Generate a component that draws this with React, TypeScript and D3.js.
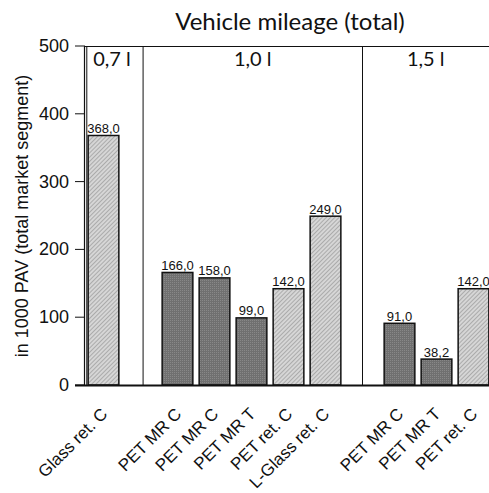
import React from "react";
import * as d3 from "d3";

const categories = ["Glass ret. C", "PET MR C", "PET MR C", "PET MR T", "PET ret. C", "L-Glass ret. C", "PET MR C", "PET MR T", "PET ret. C"];
const slots = [0, 2, 3, 4, 5, 6, 8, 9, 10];
const values = [368.0, 166.0, 158.0, 99.0, 142.0, 249.0, 91.0, 38.2, 142.0];
const kinds = ["light", "dark", "dark", "dark", "light", "light", "dark", "dark", "light"];
const groupLabels = ["0,7 l", "1,0 l", "1,5 l"];
const groupBounds = [-0.5, 1.07, 7.0, 10.5];
const yTicks = [0, 100, 200, 300, 400, 500];

const W = 489, H = 493;
const left = 85, right = 492, top = 46, bottom = 385;
const sans = "'Liberation Sans', Arial, sans-serif";
const humanist = "Lato, 'Open Sans', sans-serif";

export default function App() {
  const x = d3.scaleLinear().domain([-0.5, 10.5]).range([left, right]);
  const y = d3.scaleLinear().domain([0, 500]).range([bottom, top]);
  const bw = (x(1) - x(0)) * 0.83;
  const fmt = (v: number) => v.toFixed(1).replace(".", ",");
  return (
    <svg width={W} height={H} style={{ position: "absolute", left: 0, top: 0, background: "#fff" }}>
      <defs>
        <pattern id="dark" width="2" height="2" patternUnits="userSpaceOnUse">
          <rect width="2" height="2" fill="#707070" />
          <rect width="1" height="1" fill="#888888" />
        </pattern>
        <pattern id="light" width="3" height="3" patternUnits="userSpaceOnUse" patternTransform="rotate(45)">
          <rect width="3" height="3" fill="#d6d6d6" />
          <rect width="1" height="3" fill="#ababab" />
        </pattern>
      </defs>
      <text x={290} y={30} textAnchor="middle" fontFamily={humanist} fontSize={24} fill="#111">Vehicle mileage (total)</text>
      {/* bars */}
      {values.map((v, i) => (
        <g key={i}>
          <rect x={x(slots[i]) - bw / 2} y={y(v)} width={bw} height={y(0) - y(v)}
            fill={`url(#${kinds[i]})`} stroke="#111" strokeWidth={1.5} />
          <text x={x(slots[i])} y={y(v) - 2.5} textAnchor="middle" fontFamily={sans} fontSize={13} fill="#111">{fmt(v)}</text>
          <text transform={`translate(${x(slots[i]) + 5},${bottom + 30}) rotate(-45)`} textAnchor="end"
            fontFamily={sans} fontSize={17} fill="#111">{categories[i]}</text>
        </g>
      ))}
      {/* frame */}
      <line x1={left} x2={W} y1={top + 0.5} y2={top + 0.5} stroke="#111" strokeWidth={1} />
      <line x1={left - 0.5} x2={left - 0.5} y1={top} y2={bottom} stroke="#111" strokeWidth={1.2} />
      <line x1={left + 1.8} x2={left + 1.8} y1={top} y2={bottom} stroke="#111" strokeWidth={1} />
      {groupBounds.slice(1, 3).map((b, i) => (
        <line key={i} x1={x(b)} x2={x(b)} y1={top} y2={bottom} stroke="#111" strokeWidth={1} />
      ))}
      <line x1={left - 10} x2={W} y1={bottom + 0.5} y2={bottom + 0.5} stroke="#111" strokeWidth={2} />
      {groupLabels.map((g, i) => (
        <text key={g} x={(x(groupBounds[i]) + Math.min(x(groupBounds[i + 1]), W)) / 2 + (i === 0 ? -2 : 0)} y={66}
          textAnchor="middle" fontFamily={humanist} fontSize={20} fill="#111">{g}</text>
      ))}
      {/* y axis */}
      {yTicks.map(t => (
        <g key={t}>
          <line x1={left - 10} x2={left} y1={y(t)} y2={y(t)} stroke="#111" strokeWidth={1} />
          <text x={left - 16} y={y(t) + 6} textAnchor="end" fontFamily={sans} fontSize={18} fill="#111">{t}</text>
        </g>
      ))}
      <text transform={`translate(28,216) rotate(-90)`} textAnchor="middle" fontFamily={sans} fontSize={18} fill="#111">in 1000 PAV (total market segment)</text>
    </svg>
  );
}
